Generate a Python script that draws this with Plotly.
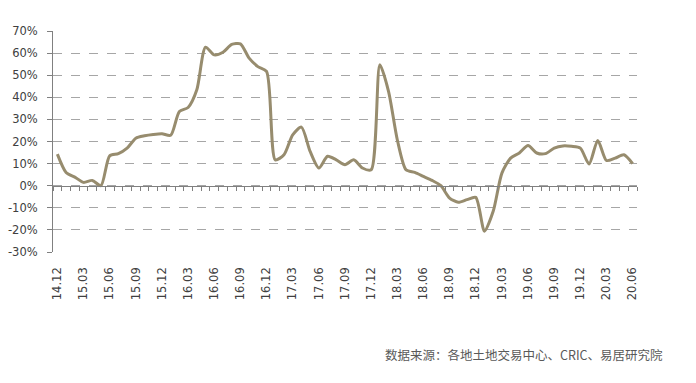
import plotly.graph_objects as go

months = ["14.12","15.01","15.02","15.03","15.04","15.05","15.06","15.07","15.08","15.09","15.10","15.11",
          "15.12","16.01","16.02","16.03","16.04","16.05","16.06","16.07","16.08","16.09","16.10","16.11",
          "16.12","17.01","17.02","17.03","17.04","17.05","17.06","17.07","17.08","17.09","17.10","17.11",
          "17.12","18.01","18.02","18.03","18.04","18.05","18.06","18.07","18.08","18.09","18.10","18.11",
          "18.12","19.01","19.02","19.03","19.04","19.05","19.06","19.07","19.08","19.09","19.10","19.11",
          "19.12","20.01","20.02","20.03","20.04","20.05","20.06"]
growth = [14.3, 6.0, 3.9, 1.5, 2.4, 0.0, 13.5, 14.5, 17.0, 21.5, 22.6, 23.2,
          23.5, 22.8, 33.6, 35.4, 43.4, 62.7, 59.2, 60.4, 63.9, 64.2, 57.7, 53.9,
          51.7, 11.7, 14.0, 23.0, 26.5, 15.5, 8.0, 13.3, 11.7, 9.5, 11.7, 8.0,
          7.2, 54.7, 42.6, 20.8, 7.2, 6.0, 4.2, 2.4, 0.0, -5.6, -7.5, -6.3,
          -5.3, -20.6, -11.6, 5.7, 12.5, 14.8, 18.2, 14.8, 14.5, 17.0, 18.0, 17.8,
          17.0, 9.8, 20.5, 11.4, 12.5, 14.0, 10.0]
y_ticks = [70, 60, 50, 40, 30, 20, 10, 0, -10, -20, -30]
source = "数据来源：各地土地交易中心、CRIC、易居研究院"

n = len(months)
xs = list(range(n))
label_idx = list(range(0, n, 3))
ymin, ymax = -30, 70
tick_font = dict(family="DejaVu Sans", size=11.5, color="#404040")

fig = go.Figure()
fig.add_trace(go.Scatter(x=xs, y=growth, mode="lines",
                         line=dict(color="#978C6E", width=3, shape="spline", smoothing=0.7),
                         hoverinfo="skip", showlegend=False))
# invisible trace to carry the zero-line axis with month ticks
fig.add_trace(go.Scatter(x=xs, y=growth, mode="lines", xaxis="x2", opacity=0,
                         hoverinfo="skip", showlegend=False))

fig.update_layout(
    width=696, height=383,
    margin=dict(l=53, r=59, t=31, b=131),
    paper_bgcolor="white", plot_bgcolor="white",
    font=dict(family="DejaVu Sans", size=11.5, color="#404040"),
    xaxis=dict(range=[-0.5, n - 0.5], tickmode="array", tickvals=label_idx,
               ticktext=[months[i] for i in label_idx], tickangle=-90,
               showgrid=False, zeroline=False, showline=False, ticks="",
               ticklabelstandoff=12, tickfont=tick_font, automargin=False),
    xaxis2=dict(overlaying="x", anchor="free", position=(0 - ymin) / (ymax - ymin),
                range=[-0.5, n - 0.5], tickmode="array",
                tickvals=[i - 0.5 for i in range(n + 1)],
                showticklabels=False, showgrid=False, zeroline=False,
                showline=True, linecolor="#808080", linewidth=1,
                ticks="outside", ticklen=4, tickcolor="#808080", tickwidth=1,
                automargin=False),
    yaxis=dict(range=[ymin, ymax], tickmode="array", tickvals=y_ticks,
               ticktext=[f"{v}%" for v in y_ticks],
               showgrid=True, gridcolor="#A6A6A6", griddash="dash", gridwidth=1,
               zeroline=False, showline=True, linecolor="#808080", linewidth=1,
               ticks="outside", ticklen=5, tickcolor="#808080",
               ticklabelstandoff=7, tickfont=tick_font, automargin=False),
    annotations=[dict(text=source, xref="paper", yref="paper", x=1.048, y=-0.466,
                      xanchor="right", yanchor="middle", showarrow=False,
                      font=dict(family="Noto Sans CJK SC", size=12.5, color="#595959"))],
)

fig.write_html("out.html", config={"displayModeBar": False},
               post_script="document.body.style.margin='0';")
